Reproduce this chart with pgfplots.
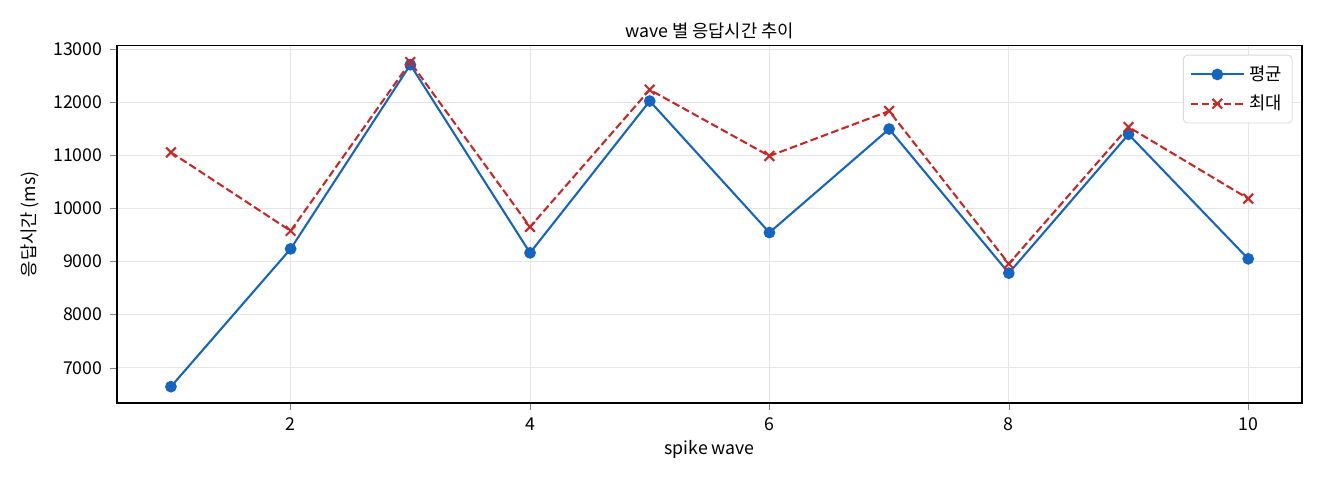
\documentclass[border=0pt]{standalone}
\usepackage{fontspec}
\setmainfont{Noto Sans CJK KR}
\usepackage{pgfplots}
\pgfplotsset{compat=1.18}
\definecolor{avgblue}{HTML}{1565C0}
\definecolor{maxred}{HTML}{C62828}
\begin{document}
\begin{tikzpicture}[font=\fontsize{8.5}{10}\selectfont]
  \useasboundingbox (-56.2pt,-37pt) rectangle (577.4pt,193.4pt);
  \begin{axis}[
      scale only axis,
      width=568.8pt,
      height=171.4pt,
      xmin=0.55, xmax=10.45,
      ymin=6337, ymax=13062,
      xtick={2,4,6,8,10},
      ytick={7000,8000,...,13000},
      scaled ticks=false,
      /pgf/number format/assume math mode=true,
      /pgf/number format/1000 sep={},
      tick align=outside,
      tick pos=left,
      major tick length=3.5pt,
      grid=major,
      grid style={gray!20, line width=0.4pt},
      axis line style={line width=0.6pt},
      title={wave 별 응답시간 추이},
      title style={yshift=-6pt},
      xlabel={spike wave},
      ylabel={응답시간 (ms)},
      xlabel style={yshift=2pt},
      legend style={at={(0.992,0.975)}, anchor=north east, draw=gray!30, rounded corners=2pt, font=\fontsize{8.5}{10}\selectfont, row sep=1.5pt, inner sep=3pt},
      legend cell align=left,
      legend image code/.code={
        \draw[mark repeat=2, mark phase=2, #1] plot coordinates {(0cm,0cm) (0.45cm,0cm) (0.9cm,0cm)};
      },
    ]
    \addplot[color=avgblue, line width=1pt, mark=*, mark size=2.3pt] coordinates {
      (1,6643) (2,9238) (3,12705) (4,9163) (5,12022)
      (6,9545) (7,11495) (8,8781) (9,11395) (10,9050)
    };
    \addlegendentry{평균}
    \addplot[color=maxred, line width=1pt, dashed, dash pattern=on 3.7pt off 1.6pt, mark=x, mark size=3.3pt, mark options={solid}] coordinates {
      (1,11056) (2,9577) (3,12755) (4,9652) (5,12235)
      (6,10987) (7,11834) (8,8956) (9,11533) (10,10185)
    };
    \addlegendentry{최대}
  \end{axis}
\end{tikzpicture}
\end{document}
